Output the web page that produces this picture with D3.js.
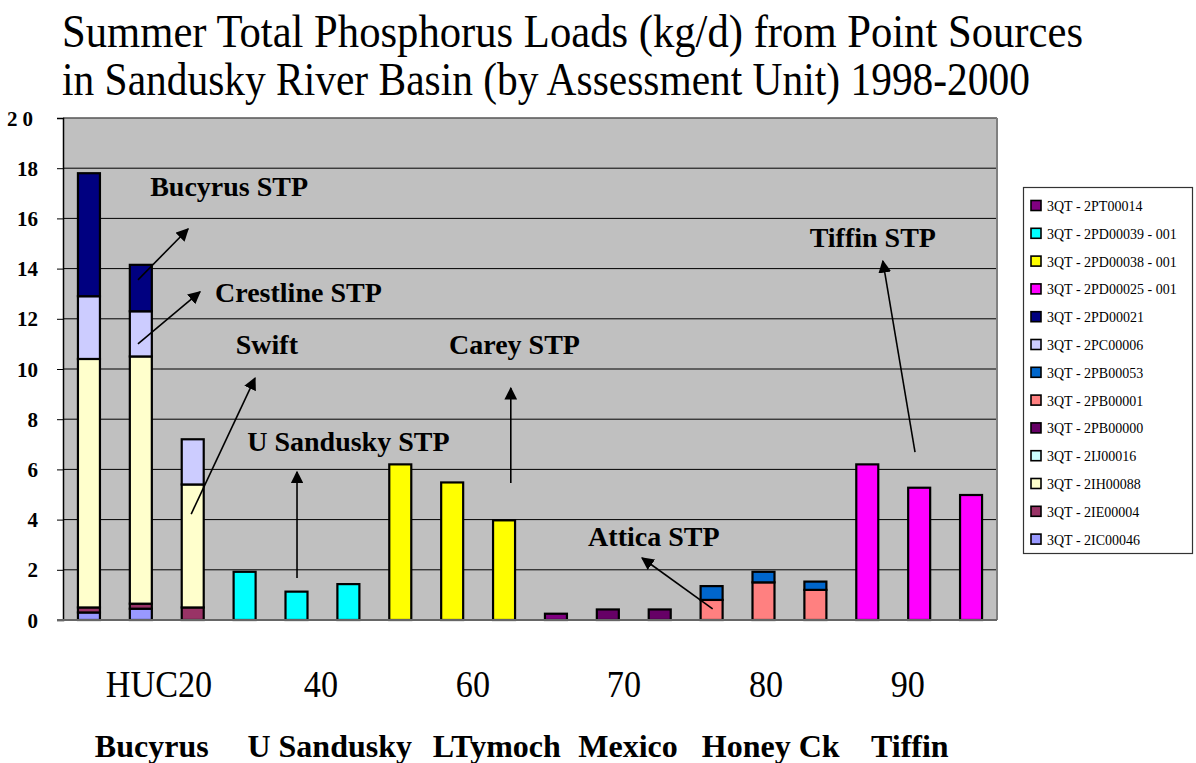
<!DOCTYPE html>
<html>
<head>
<meta charset="utf-8">
<script src="https://cdn.jsdelivr.net/npm/d3@7"></script>
<style>
  html, body { margin: 0; padding: 0; background: #fff; }
  svg { display: block; }
</style>
</head>
<body>
<svg id="chart" width="1196" height="763"></svg>
<script>
const FONT = "'Liberation Serif', 'Times New Roman', Times, serif";
// ---- Data ----
const categories = ["b1","b2","b3","b4","b5","b6","b7","b8","b9","b10","b11","b12","b13","b14","b15","b16","b17","b18"];

const seriesNames = [
  "3QT - 2IC00046", "3QT - 2IE00004", "3QT - 2IH00088", "3QT - 2IJ00016",
  "3QT - 2PB00000", "3QT - 2PB00001", "3QT - 2PB00053", "3QT - 2PC00006",
  "3QT - 2PD00021", "3QT - 2PD00025 - 001", "3QT - 2PD00038 - 001",
  "3QT - 2PD00039 - 001", "3QT - 2PT00014"
];
const seriesColors = [
  "#9999FF", "#993366", "#FFFFCC", "#CCFFFF",
  "#660066", "#FF8080", "#0066CC", "#CCCCFF",
  "#000080", "#FF00FF", "#FFFF00",
  "#00FFFF", "#800080"
];

const s2IC00046 = [0.3, 0.45, 0, 0, 0, 0, 0, 0, 0, 0, 0, 0, 0, 0, 0, 0, 0, 0];
const s2IE00004 = [0.2, 0.2, 0.5, 0, 0, 0, 0, 0, 0, 0, 0, 0, 0, 0, 0, 0, 0, 0];
const s2IH00088 = [9.9, 9.85, 4.9, 0, 0, 0, 0, 0, 0, 0, 0, 0, 0, 0, 0, 0, 0, 0];
const s2IJ00016 = [0, 0, 0, 0, 0, 0, 0, 0, 0, 0, 0, 0, 0, 0, 0, 0, 0, 0];
const s2PB00000 = [0, 0, 0, 0, 0, 0, 0, 0, 0, 0, 0.42, 0.42, 0, 0, 0, 0, 0, 0];
const s2PB00001 = [0, 0, 0, 0, 0, 0, 0, 0, 0, 0, 0, 0, 0.8, 1.5, 1.2, 0, 0, 0];
const s2PB00053 = [0, 0, 0, 0, 0, 0, 0, 0, 0, 0, 0, 0, 0.55, 0.42, 0.33, 0, 0, 0];
const s2PC00006 = [2.5, 1.8, 1.8, 0, 0, 0, 0, 0, 0, 0, 0, 0, 0, 0, 0, 0, 0, 0];
const s2PD00021 = [4.9, 1.85, 0, 0, 0, 0, 0, 0, 0, 0, 0, 0, 0, 0, 0, 0, 0, 0];
const s2PD00025 = [0, 0, 0, 0, 0, 0, 0, 0, 0, 0, 0, 0, 0, 0, 0, 6.2, 5.27, 4.98];
const s2PD00038 = [0, 0, 0, 0, 0, 0, 6.2, 5.48, 3.97, 0, 0, 0, 0, 0, 0, 0, 0, 0];
const s2PD00039 = [0, 0, 0, 1.92, 1.13, 1.43, 0, 0, 0, 0, 0, 0, 0, 0, 0, 0, 0, 0];
const s2PT00014 = [0, 0, 0, 0, 0, 0, 0, 0, 0, 0.25, 0, 0, 0, 0, 0, 0, 0, 0];

const seriesValues = [s2IC00046, s2IE00004, s2IH00088, s2IJ00016, s2PB00000, s2PB00001,
  s2PB00053, s2PC00006, s2PD00021, s2PD00025, s2PD00038, s2PD00039, s2PT00014];

const legendOrder = [12, 11, 10, 9, 8, 7, 6, 5, 4, 3, 2, 1, 0];

const yTicks = [0, 2, 4, 6, 8, 10, 12, 14, 16, 18, 20];

const titleLines = [
  "Summer Total Phosphorus Loads (kg/d) from Point Sources",
  "in Sandusky River Basin (by Assessment Unit) 1998-2000"
];
const titleWidths = [1021, 968];

const hucLabels = ["HUC20", "40", "60", "70", "80", "90"];
const hucPos = [1.85, 4.97, 7.90, 10.81, 13.55, 16.28];
const unitNames = ["Bucyrus", "U Sandusky", "LTymoch", "Mexico", "Honey Ck", "Tiffin"];
const unitPos = [1.71, 5.14, 8.36, 10.89, 13.64, 16.32];

const annoText = ["Bucyrus STP", "Crestline STP", "Swift", "U Sandusky STP", "Carey STP", "Attica STP", "Tiffin STP"];
const annoTextX = [1.68, 2.93, 3.33, 3.55, 7.44, 10.12, 14.39];
const annoTextY = [16.9, 12.65, 10.6, 6.75, 10.6, 2.95, 14.85];
const arrowX1 = [1.445, 1.445, 2.47, 4.51, 8.63, 12.52, 16.42];
const arrowY1 = [13.55, 11.0, 4.22, 1.67, 5.46, 0.44, 6.69];
const arrowX2 = [2.41, 2.64, 3.70, 4.51, 8.63, 11.16, 15.80];
const arrowY2 = [15.58, 13.07, 9.64, 5.9, 9.24, 2.47, 14.3];

// ---- Layout ----
const svg = d3.select("#chart");
const plot = { left: 63, right: 997, top: 118, bottom: 620 };

const x = d3.scaleBand().domain(categories).range([plot.left, plot.right])
  .paddingInner(0.576).paddingOuter(0.288);
const xs = d3.scaleLinear().domain([0, categories.length]).range([plot.left, plot.right]);
const y = d3.scaleLinear().domain([0, 20]).range([plot.bottom, plot.top]);

// title: condensed serif, as in the reference
svg.append("g").selectAll("text").data(titleLines).join("text")
  .attr("x", 62).attr("y", (d, i) => 47 + i * 48)
  .attr("textLength", (d, i) => titleWidths[i]).attr("lengthAdjust", "spacingAndGlyphs")
  .style("font-family", FONT).style("font-size", "46px").attr("fill", "#000")
  .text(d => d);

svg.append("rect")
  .attr("x", plot.left).attr("y", plot.top)
  .attr("width", plot.right - plot.left).attr("height", plot.bottom - plot.top)
  .attr("fill", "#C0C0C0");

svg.append("g").selectAll("line").data(yTicks.filter(t => t > 0)).join("line")
  .attr("x1", plot.left).attr("x2", plot.right)
  .attr("y1", d => y(d)).attr("y2", d => y(d))
  .attr("stroke", d => d === 20 ? "#555" : "#000").attr("stroke-width", d => d === 20 ? 1.5 : 1);

svg.append("line").attr("x1", plot.right).attr("x2", plot.right)
  .attr("y1", plot.top).attr("y2", plot.bottom)
  .attr("stroke", "#808080").attr("stroke-width", 2);

const stacked = d3.stack().keys(d3.range(seriesNames.length))
  .value((d, k) => seriesValues[k][d])(d3.range(categories.length));

const barG = svg.append("g");
stacked.forEach((layer, k) => {
  barG.append("g").selectAll("rect")
    .data(layer.map((seg, i) => ({ seg, i })).filter(d => d.seg[1] - d.seg[0] > 0))
    .join("rect")
    .attr("x", d => x(categories[d.i]))
    .attr("width", x.bandwidth())
    .attr("y", d => y(d.seg[1]))
    .attr("height", d => y(d.seg[0]) - y(d.seg[1]))
    .attr("fill", seriesColors[k])
    .attr("stroke", "#000").attr("stroke-width", 2.2);
});

const yAxis = d3.axisLeft(y).tickValues(yTicks).tickSize(6).tickFormat(d => d);
const yg = svg.append("g").attr("transform", `translate(${plot.left},0)`).call(yAxis);
yg.select(".domain").attr("stroke", "#000").attr("stroke-width", 1.5);
yg.selectAll(".tick line").attr("stroke", "#000");
yg.selectAll(".tick text")
  .attr("x", -25).style("font-family", FONT).style("font-size", "21px").style("font-weight", "bold")
  .attr("fill", "#000")
  .style("letter-spacing", d => d === 20 ? "5px" : "0px")
  .attr("dy", "0.34em");

svg.append("line").attr("x1", plot.left - 6).attr("x2", plot.right)
  .attr("y1", plot.bottom).attr("y2", plot.bottom)
  .attr("stroke", "#666").attr("stroke-width", 2);

svg.append("defs").append("marker")
  .attr("id", "arrow").attr("viewBox", "0 0 10 10")
  .attr("refX", 9).attr("refY", 5)
  .attr("markerWidth", 8).attr("markerHeight", 8)
  .attr("markerUnits", "strokeWidth")
  .attr("orient", "auto")
  .append("path").attr("d", "M0,0 L10,5 L0,10 Z").attr("fill", "#000");

const annoG = svg.append("g");
annoG.selectAll("line").data(annoText).join("line")
  .attr("x1", (d, i) => xs(arrowX1[i])).attr("y1", (d, i) => y(arrowY1[i]))
  .attr("x2", (d, i) => xs(arrowX2[i])).attr("y2", (d, i) => y(arrowY2[i]))
  .attr("stroke", "#000").attr("stroke-width", 1.6)
  .attr("marker-end", "url(#arrow)");
annoG.selectAll("text").data(annoText).join("text")
  .attr("x", (d, i) => xs(annoTextX[i])).attr("y", (d, i) => y(annoTextY[i]))
  .style("font-family", FONT).style("font-size", "28px").style("font-weight", "bold").attr("fill", "#000")
  .text(d => d);

svg.append("g").selectAll("text").data(hucLabels).join("text")
  .attr("transform", (d, i) => `translate(${xs(hucPos[i])}, 697) scale(0.9, 1)`)
  .attr("text-anchor", "middle").style("font-family", FONT).style("font-size", "38px").attr("fill", "#000")
  .text(d => d);

svg.append("g").selectAll("text").data(unitNames).join("text")
  .attr("x", (d, i) => xs(unitPos[i])).attr("y", 757)
  .attr("text-anchor", "middle").style("font-family", FONT).style("font-size", "32px").style("font-weight", "bold").attr("fill", "#000")
  .text(d => d);

const lg = svg.append("g");
lg.append("rect").attr("x", 1023.5).attr("y", 187.5).attr("width", 169).attr("height", 366)
  .attr("fill", "#fff").attr("stroke", "#333").attr("stroke-width", 1.2);
const items = lg.selectAll("g.item").data(legendOrder).join("g").attr("class", "item")
  .attr("transform", (d, i) => `translate(1031, ${206 + i * 27.8})`);
items.append("rect").attr("x", 0).attr("y", -5.5).attr("width", 10).attr("height", 10)
  .attr("fill", k => seriesColors[k]).attr("stroke", "#000").attr("stroke-width", 1.6);
items.append("text").attr("x", 16).attr("y", 5)
  .style("font-family", FONT).style("font-size", "14px").attr("fill", "#000")
  .text(k => seriesNames[k]);
</script>
</body>
</html>
